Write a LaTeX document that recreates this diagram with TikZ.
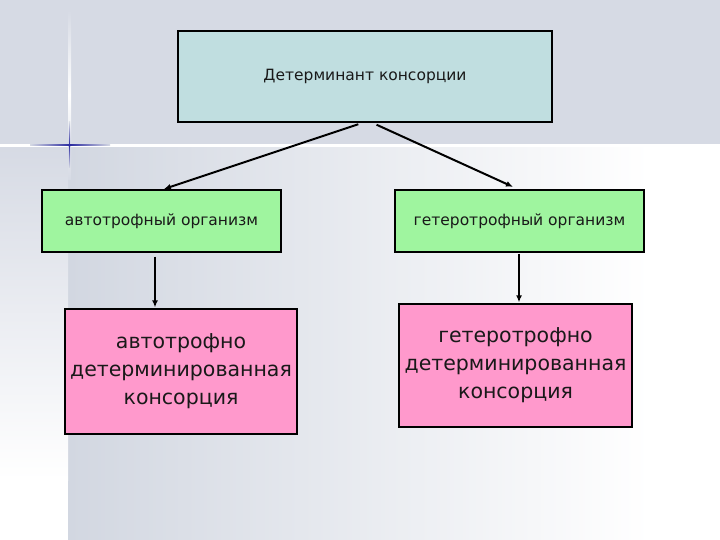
\documentclass[tikz,border=0pt]{standalone}
\usepackage{fontspec}
\setmainfont{DejaVu Sans}
\usetikzlibrary{arrows.meta,calc}
\definecolor{bgtop}{HTML}{D6DAE4}
\definecolor{bgleft}{HTML}{D2D7E1}
\definecolor{topfill}{HTML}{C0DEE0}
\definecolor{greenfill}{HTML}{9FF59F}
\definecolor{pinkfill}{HTML}{FF99CC}
\definecolor{starblue}{HTML}{2A2AA0}
\tikzset{
  box/.style={draw=black, line width=1.3pt, inner sep=0pt, align=center, text=black!90},
  smalltxt/.style={font=\fontsize{15.5}{18}\selectfont},
  bigtxt/.style={font=\fontsize{20.5}{28}\selectfont},
  conn/.style={draw=black, line width=2pt, -{Latex[length=7pt,width=6pt]}},
}
\begin{document}
\begin{tikzpicture}[x=1pt,y=-1pt]
\useasboundingbox (0,0) rectangle (720,540);
% background
\fill[bgtop] (0,0) rectangle (720,145);
\shade[left color=bgleft, right color=white] (68,145) rectangle (650,540);
\fill[white] (649.5,145) rectangle (720,540);
\shade[top color=bgtop, bottom color=white] (0,145) rectangle (68,480);
\fill[white] (0,479.5) rectangle (68,540);
\fill[white] (0,144) rectangle (720,147);
\shade[top color=bgtop, bottom color=bgtop, middle color=white] (68,10) rectangle (71,180);
\shade[left color=bgtop, right color=bgtop, middle color=starblue] (30,144.5) rectangle (110,146);
\shade[top color=bgtop, bottom color=bgtop, middle color=starblue] (68.8,122) rectangle (70.2,168);
% boxes
\node[box, fill=topfill, minimum width=374pt, minimum height=91pt, smalltxt] (top) at (365,76.5) {Детерминант консорции};
\node[box, fill=greenfill, minimum width=239pt, minimum height=62pt, smalltxt] (lg) at (161.5,221) {автотрофный организм};
\node[box, fill=greenfill, minimum width=249pt, minimum height=62pt, smalltxt] (rg) at (519.5,221) {гетеротрофный организм};
\node[box, fill=pinkfill, minimum width=232pt, minimum height=125pt, bigtxt] (lp) at (181,371.5) {автотрофно\\детерминированная\\консорция};
\node[box, fill=pinkfill, minimum width=233pt, minimum height=123pt, bigtxt] (rp) at (515.5,365.5) {гетеротрофно\\детерминированная\\консорция};
% connectors
\draw[conn, shorten <=5pt, shorten >=1pt] ([xshift=-2pt]top.south) -- ([xshift=1.5pt]lg.north);
\draw[conn, shorten <=5pt, shorten >=6pt] ([xshift=7pt]top.south) -- ([xshift=-1pt]rg.north);
\draw[conn, shorten <=4pt, shorten >=1pt] ([xshift=-6.5pt]lg.south) -- ([xshift=-6.5pt]lg.south |- lp.north);
\draw[conn, shorten <=1pt, shorten >=1pt] ([xshift=-0.5pt]rg.south) -- ([xshift=-0.5pt]rg.south |- rp.north);
\end{tikzpicture}
\end{document}
